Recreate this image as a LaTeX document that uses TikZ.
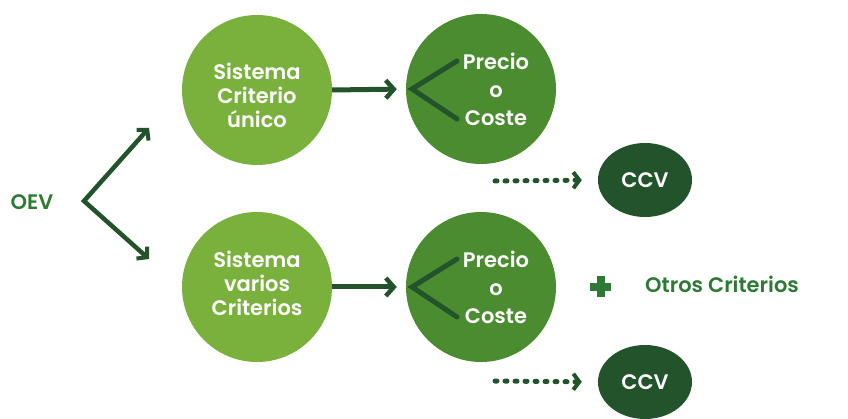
\documentclass[tikz,border=0pt]{standalone}
\usepackage{fontspec}
\setmainfont{Poppins}[BoldFont={Poppins SemiBold}]
\usetikzlibrary{arrows.meta,shapes.geometric}
\definecolor{lightg}{HTML}{7AB13C}
\definecolor{midg}{HTML}{4A8C2F}
\definecolor{darkg}{HTML}{23532A}
\definecolor{textg}{HTML}{2C7A33}
\begin{document}
\begin{tikzpicture}[x=1pt,y=-1pt,
  circA/.style={circle,fill=lightg,minimum size=150pt,inner sep=0pt},
  circB/.style={circle,fill=midg,minimum size=150pt,inner sep=0pt},
  ccvbox/.style={ellipse,fill=darkg,minimum width=94pt,minimum height=74pt,inner sep=0pt,text=white,font=\bfseries\fontsize{21}{24}\selectfont},
  wtxt/.style={text=white,align=center,font=\bfseries\fontsize{21}{24}\selectfont},
  ptxt/.style={text=white,align=center,font=\bfseries\fontsize{21}{28}\selectfont},
  gtxt/.style={text=textg,font=\bfseries\fontsize{21}{24}\selectfont},
  solidarrow/.style={draw=darkg,line width=5pt,-{Straight Barb[length=8pt,width=18pt,line width=4.5pt]}},
  dotarrow/.style={draw=darkg,line width=5pt,line cap=round,dash pattern=on 2pt off 8pt,-{Straight Barb[length=6pt,width=16pt,line width=4pt]}},
  chev/.style={draw=darkg,line width=5pt,line cap=round,line join=miter}
]
\useasboundingbox (0,0) rectangle (848,419);
\node[circA] (s1) at (257,90) {};
\node[wtxt] (s1t) at (257,95) {Sistema\\Criterio\\único};
\node[circA] (s2) at (257,287) {};
\node[wtxt] (s2t) at (257,283) {Sistema\\varios\\Criterios};
\node[circB] (p1) at (481,89) {};
\node[ptxt] (p1t) at (496,89) {Precio\\o\\Coste};
\node[circB] (p2) at (481,287) {};
\node[ptxt] (p2t) at (496,287) {Precio\\o\\Coste};
\node[gtxt] (oev) at (32,202) {OEV};
\node[gtxt] (otros) at (722,284) {Otros Criterios};
\coordinate (vx) at (84,201);
\coordinate (up) at (149,128);
\coordinate (dn) at (149,259);
\draw[draw=darkg,line width=4.5pt,line join=miter,{Straight Barb[length=7pt,width=16pt,line width=4pt]}-{Straight Barb[length=7pt,width=16pt,line width=4pt]}] (up) -- (vx) -- (dn);
\draw[solidarrow,shorten >=9pt] (s1.east) -- (p1.west);
\draw[solidarrow,shorten >=9pt] (s2.east) -- (p2.west);
\draw[chev] ([xshift=-24pt,yshift=-30pt]p1.center) -- ([xshift=-69pt]p1.center) -- ([xshift=-24pt,yshift=28pt]p1.center);
\draw[chev] ([xshift=-24pt,yshift=-30pt]p2.center) -- ([xshift=-69pt]p2.center) -- ([xshift=-24pt,yshift=28pt]p2.center);
\node[ccvbox] (c1) at (645,180) {CCV};
\node[ccvbox] (c2) at (645,382) {CCV};
\coordinate (d1) at (495,181);
\coordinate (d2) at (495,381);
\draw[dotarrow,shorten >=16pt] (d1) -- (c1.west);
\draw[dotarrow,shorten >=16pt] (d2) -- (c2.west);
\node[fill=textg,minimum width=21pt,minimum height=8pt,inner sep=0pt] (plush) at (600.5,287) {};
\node[fill=textg,minimum width=8pt,minimum height=21pt,inner sep=0pt] (plusv) at (600.5,287) {};
\end{tikzpicture}
\end{document}
